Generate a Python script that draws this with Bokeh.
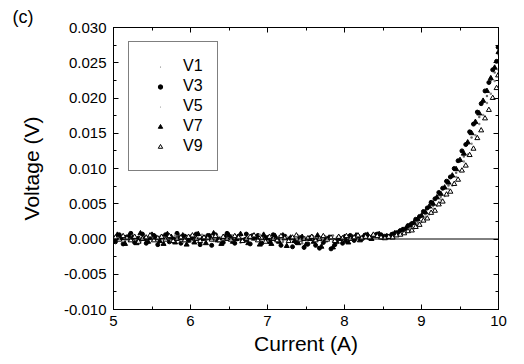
from bokeh.plotting import figure
from bokeh.models import (Range1d, LinearAxis, Span, Legend, LegendItem,
                          SingleIntervalTicker, NumeralTickFormatter, CustomJSTickFormatter)
from bokeh.embed import file_html
from bokeh.resources import INLINE

# ---- data ----
current_a = [5.00, 5.05, 5.10, 5.15, 5.20, 5.25, 5.30, 5.35, 5.40, 5.45,
             5.50, 5.55, 5.60, 5.65, 5.70, 5.75, 5.80, 5.85, 5.90, 5.95,
             6.00, 6.05, 6.10, 6.15, 6.20, 6.25, 6.30, 6.35, 6.40, 6.45,
             6.50, 6.55, 6.60, 6.65, 6.70, 6.75, 6.80, 6.85, 6.90, 6.95,
             7.00, 7.05, 7.10, 7.15, 7.20, 7.25, 7.30, 7.35, 7.40, 7.45,
             7.50, 7.55, 7.60, 7.65, 7.70, 7.75, 7.80, 7.85, 7.90, 7.95,
             8.00, 8.05, 8.10, 8.15, 8.20, 8.25, 8.30, 8.35, 8.40, 8.45,
             8.50, 8.55, 8.60, 8.65, 8.70, 8.75, 8.80, 8.85, 8.90, 8.95,
             9.00, 9.05, 9.10, 9.15, 9.20, 9.25, 9.30, 9.35, 9.40, 9.45,
             9.50, 9.55, 9.60, 9.65, 9.70, 9.75, 9.80, 9.85, 9.90, 9.95,
             10.00]

current_b = [5.025, 5.075, 5.125, 5.175, 5.225, 5.275, 5.325, 5.375, 5.425, 5.475,
             5.525, 5.575, 5.625, 5.675, 5.725, 5.775, 5.825, 5.875, 5.925, 5.975,
             6.025, 6.075, 6.125, 6.175, 6.225, 6.275, 6.325, 6.375, 6.425, 6.475,
             6.525, 6.575, 6.625, 6.675, 6.725, 6.775, 6.825, 6.875, 6.925, 6.975,
             7.025, 7.075, 7.125, 7.175, 7.225, 7.275, 7.325, 7.375, 7.425, 7.475,
             7.525, 7.575, 7.625, 7.675, 7.725, 7.775, 7.825, 7.875, 7.925, 7.975,
             8.025, 8.075, 8.125, 8.175, 8.225, 8.275, 8.325, 8.375, 8.425, 8.475,
             8.525, 8.575, 8.625, 8.675, 8.725, 8.775, 8.825, 8.875, 8.925, 8.975,
             9.025, 9.075, 9.125, 9.175, 9.225, 9.275, 9.325, 9.375, 9.425, 9.475,
             9.525, 9.575, 9.625, 9.675, 9.725, 9.775, 9.825, 9.875, 9.925, 9.975,
             9.995]

V1 = [0.0003, -0.0002, 0.0001, 0.0004, -0.0003, 0.0000, 0.0002, -0.0004, 0.0005, 0.0001,
      -0.0001, 0.0003, -0.0002, 0.0004, 0.0000, -0.0003, 0.0002, 0.0006, -0.0001, 0.0001,
      -0.0004, 0.0003, 0.0000, 0.0002, -0.0002, 0.0005, -0.0001, -0.0003, 0.0001, 0.0004,
      -0.0002, 0.0000, 0.0003, -0.0005, 0.0001, 0.0002, -0.0001, 0.0004, -0.0003, 0.0000,
      0.0002, -0.0002, 0.0005, 0.0001, -0.0004, 0.0000, 0.0003, -0.0001, 0.0002, -0.0006,
      0.0001, 0.0004, -0.0002, 0.0000, 0.0003, -0.0003, 0.0001, 0.0005, -0.0001, 0.0002,
      -0.0002, 0.0004, 0.0000, -0.0001, 0.0003, 0.0001, 0.0005, 0.0002, 0.0004, 0.0003,
      0.0003, 0.0001, 0.0006, 0.0005, 0.0010, 0.0009, 0.0015, 0.0014, 0.0022, 0.0024,
      0.0033, 0.0035, 0.0045, 0.0047, 0.0058, 0.0060, 0.0072, 0.0076, 0.0088, 0.0094,
      0.0110, 0.0117, 0.0135, 0.0144, 0.0163, 0.0173, 0.0194, 0.0203, 0.0225, 0.0236,
      0.0262]

V3 = [-0.0004, 0.0006, -0.0007, 0.0003, 0.0008, -0.0005, 0.0001, 0.0007, -0.0006, 0.0002,
      0.0005, -0.0008, 0.0003, 0.0006, -0.0004, 0.0000, 0.0008, -0.0006, 0.0004, -0.0002,
      0.0001, 0.0007, -0.0008, 0.0002, 0.0005, -0.0009, 0.0006, 0.0000, -0.0005, 0.0008,
      0.0003, -0.0006, 0.0004, -0.0002, 0.0007, -0.0007, 0.0001, 0.0005, -0.0006, 0.0002,
      -0.0004, 0.0006, -0.0002, -0.0009, 0.0004, 0.0000, -0.0011, -0.0005, 0.0002, -0.0012,
      -0.0007, 0.0003, -0.0009, -0.0013, -0.0005, 0.0001, -0.0014, -0.0008, 0.0002, -0.0006,
      -0.0003, 0.0005, -0.0002, 0.0004, 0.0000, 0.0006, 0.0002, 0.0005, 0.0007, 0.0006,
      0.0004, 0.0003, 0.0007, 0.0009, 0.0012, 0.0014, 0.0019, 0.0022, 0.0028, 0.0032,
      0.0039, 0.0044, 0.0052, 0.0057, 0.0066, 0.0072, 0.0082, 0.0088, 0.0100, 0.0111,
      0.0125, 0.0134, 0.0152, 0.0163, 0.0180, 0.0192, 0.0210, 0.0222, 0.0240, 0.0252,
      0.0272]

V5 = [0.0001, 0.0004, -0.0001, -0.0003, 0.0002, 0.0005, -0.0002, 0.0001, -0.0001, 0.0003,
      0.0004, 0.0000, -0.0003, 0.0002, 0.0001, -0.0002, 0.0005, 0.0000, -0.0004, 0.0002,
      0.0003, -0.0001, 0.0002, 0.0006, -0.0002, 0.0001, -0.0003, 0.0004, 0.0002, -0.0001,
      0.0000, 0.0005, -0.0002, 0.0003, -0.0004, 0.0001, 0.0002, -0.0001, 0.0006, 0.0000,
      -0.0003, 0.0002, 0.0001, 0.0004, -0.0002, 0.0003, -0.0001, 0.0000, 0.0005, -0.0002,
      0.0002, -0.0001, 0.0003, 0.0001, -0.0002, 0.0004, 0.0000, -0.0003, 0.0002, 0.0003,
      0.0001, -0.0002, 0.0004, 0.0002, 0.0000, 0.0003, 0.0006, 0.0001, 0.0003, 0.0002,
      0.0000, 0.0002, 0.0001, 0.0004, 0.0005, 0.0008, 0.0009, 0.0013, 0.0015, 0.0021,
      0.0024, 0.0031, 0.0035, 0.0043, 0.0047, 0.0056, 0.0061, 0.0071, 0.0076, 0.0088,
      0.0096, 0.0110, 0.0120, 0.0135, 0.0147, 0.0163, 0.0176, 0.0193, 0.0206, 0.0224,
      0.0240]

V7 = [-0.0003, 0.0006, 0.0001, -0.0007, 0.0004, 0.0002, -0.0006, 0.0008, 0.0000, -0.0004,
      0.0006, 0.0002, -0.0003, -0.0007, 0.0007, 0.0003, -0.0005, 0.0001, 0.0005, -0.0008,
      0.0002, -0.0005, 0.0007, 0.0000, -0.0006, 0.0004, 0.0008, -0.0002, -0.0007, 0.0003,
      0.0005, -0.0004, 0.0000, 0.0007, -0.0002, -0.0006, 0.0004, 0.0002, -0.0008, 0.0006,
      0.0001, -0.0007, 0.0004, -0.0004, 0.0005, -0.0010, 0.0002, -0.0003, -0.0006, 0.0003,
      -0.0008, 0.0000, -0.0004, 0.0005, -0.0011, -0.0002, 0.0002, -0.0012, -0.0004, 0.0000,
      0.0003, -0.0005, 0.0002, 0.0005, -0.0002, 0.0004, 0.0006, 0.0000, 0.0005, 0.0007,
      0.0002, 0.0004, 0.0005, 0.0008, 0.0009, 0.0013, 0.0015, 0.0019, 0.0023, 0.0028,
      0.0033, 0.0038, 0.0046, 0.0050, 0.0059, 0.0064, 0.0073, 0.0080, 0.0090, 0.0099,
      0.0112, 0.0121, 0.0137, 0.0150, 0.0166, 0.0178, 0.0196, 0.0210, 0.0228, 0.0243,
      0.0265]

V9 = [0.0002, -0.0001, 0.0004, 0.0001, -0.0002, 0.0003, -0.0004, 0.0000, 0.0002, 0.0005,
      -0.0002, 0.0001, 0.0003, -0.0001, 0.0004, -0.0003, 0.0000, 0.0002, -0.0002, 0.0003,
      0.0005, 0.0000, -0.0003, 0.0002, 0.0001, -0.0001, 0.0004, -0.0002, 0.0003, 0.0000,
      -0.0001, 0.0004, 0.0002, -0.0003, 0.0000, 0.0003, 0.0005, -0.0002, 0.0001, -0.0004,
      0.0003, 0.0000, -0.0002, 0.0004, 0.0001, -0.0003, 0.0002, 0.0005, -0.0001, 0.0000,
      0.0001, 0.0003, -0.0002, 0.0000, 0.0004, -0.0001, 0.0002, -0.0003, 0.0003, 0.0001,
      0.0004, 0.0000, 0.0002, 0.0005, 0.0001, 0.0003, 0.0002, 0.0006, 0.0004, 0.0002,
      0.0001, 0.0003, 0.0002, 0.0005, 0.0006, 0.0008, 0.0011, 0.0012, 0.0017, 0.0020,
      0.0026, 0.0029, 0.0037, 0.0040, 0.0049, 0.0053, 0.0063, 0.0067, 0.0078, 0.0084,
      0.0097, 0.0104, 0.0119, 0.0128, 0.0143, 0.0154, 0.0171, 0.0183, 0.0200, 0.0214,
      0.0232]

series_names = ["V1", "V3", "V5", "V7", "V9"]
x_label = "Current (A)"
y_label = "Voltage (V)"
panel_tag = "(c)"

FONT = "Liberation Sans"

p = figure(width=524, height=364, output_backend="svg", toolbar_location=None,
           x_range=Range1d(5, 10), y_range=Range1d(-0.010, 0.030),
           min_border_left=113, min_border_right=26, min_border_top=27,
           min_border_bottom=55)
p.grid.visible = False
p.outline_line_color = "black"
p.outline_line_width = 1
p.background_fill_color = "white"
p.border_fill_color = "white"

p.title.text = panel_tag
p.title.align = "left"
p.title.offset = -101
p.title.standoff = 2
p.title.text_font = FONT
p.title.text_font_size = "18px"
p.title.text_font_style = "normal"
p.title.text_color = "black"

xt = SingleIntervalTicker(interval=1, num_minor_ticks=2)
yt = SingleIntervalTicker(interval=0.005, num_minor_ticks=2)

for ax in p.xaxis:
    ax.ticker = xt
    ax.axis_label = x_label
for ax in p.yaxis:
    ax.ticker = yt
    ax.axis_label = y_label
    ax.formatter = NumeralTickFormatter(format="0.000")

for ax in list(p.xaxis) + list(p.yaxis):
    ax.major_tick_in = 5
    ax.major_tick_out = 0
    ax.minor_tick_in = 3
    ax.minor_tick_out = 0
    ax.axis_line_color = "black"
    ax.major_tick_line_color = "black"
    ax.minor_tick_line_color = "black"
    ax.major_label_text_font = FONT
    ax.major_label_text_font_size = "15px"
    ax.major_label_text_color = "black"
    ax.axis_label_text_font = FONT
    ax.axis_label_text_font_size = "21px"
    ax.axis_label_text_font_style = "normal"
    ax.axis_label_text_color = "black"

p.xaxis.major_label_standoff = 6
p.xaxis.axis_label_standoff = 3
p.yaxis.major_label_standoff = 7
p.yaxis.axis_label_standoff = 18

empty = CustomJSTickFormatter(code="return '';")
top = LinearAxis(ticker=xt, formatter=empty)
right = LinearAxis(ticker=yt, formatter=empty)
for ax in (top, right):
    ax.major_tick_in = 5
    ax.major_tick_out = 0
    ax.minor_tick_in = 3
    ax.minor_tick_out = 0
    ax.major_label_standoff = 0
    ax.major_label_text_font_size = "1px"
    ax.axis_line_color = "black"
p.add_layout(top, "above")
p.add_layout(right, "right")

r1 = p.scatter(current_a, V1, marker="dot", size=10, color="#666666")
r3 = p.scatter(current_b, V3, marker="circle", size=4, color="black")
r5 = p.scatter(current_a, V5, marker="dot", size=10, color="#888888")
r7 = p.scatter(current_a, V7, marker="triangle", size=5, color="black")
r9 = p.scatter(current_b, V9, marker="triangle", size=5, line_color="black",
               fill_color="white", line_width=1)

p.add_layout(Span(location=0, dimension="width", line_color="black", line_width=1))

legend = Legend(items=[LegendItem(label=n, renderers=[r]) for n, r in
                       zip(series_names, [r1, r3, r5, r7, r9])],
                location=(15, 138), margin=0, padding=14, spacing=0,
                label_height=20, glyph_height=11, glyph_width=34, label_standoff=6,
                label_text_font=FONT, label_text_font_size="16px",
                label_text_color="black",
                border_line_color="black", border_line_width=1,
                background_fill_color="white", background_fill_alpha=1)
p.add_layout(legend)

open("out.html", "w").write(file_html(p, INLINE))
